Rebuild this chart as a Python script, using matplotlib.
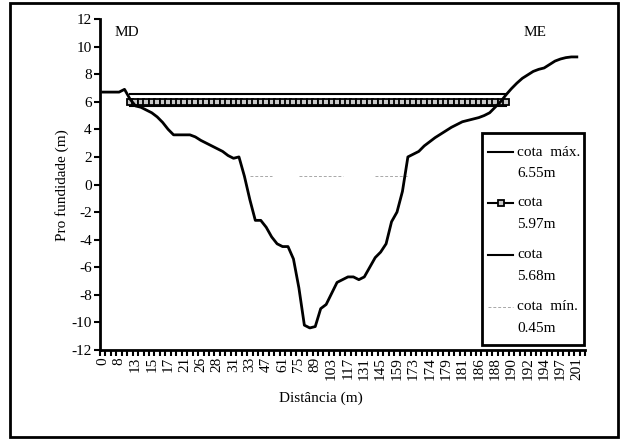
import numpy as np
import matplotlib
matplotlib.use("Agg")
import matplotlib.pyplot as plt
from matplotlib.lines import Line2D
from matplotlib.patches import Rectangle

plt.rcParams['font.family'] = ['Liberation Serif', 'DejaVu Serif']
plt.rcParams['axes.unicode_minus'] = False

# category labels (distance, m) - one label every 3 categories
dist_labels = ["0", "8", "13", "15", "17", "21", "26", "28", "31", "33", "47", "61",
               "75", "89", "103", "117", "131", "145", "159", "173", "174", "179",
               "181", "186", "188", "190", "192", "194", "197", "201"]
n_cat = 89

# bed profile (m), one value per category
profile = [6.7, 6.7, 6.7, 6.7, 6.9, 6.2, 5.7, 5.6, 5.4, 5.2,
           4.9, 4.5, 4.0, 3.6, 3.6, 3.6, 3.6, 3.45, 3.2, 3.0,
           2.8, 2.6, 2.4, 2.1, 1.9, 2.0, 0.6, -1.1, -2.6, -2.6,
           -3.1, -3.8, -4.3, -4.5, -4.5, -5.4, -7.5, -10.2, -10.4, -10.3,
           -9.0, -8.7, -7.9, -7.1, -6.9, -6.7, -6.7, -6.9, -6.7, -6.0,
           -5.3, -4.9, -4.3, -2.7, -2.0, -0.5, 2.0, 2.2, 2.4, 2.8,
           3.1, 3.4, 3.65, 3.9, 4.15, 4.35, 4.55, 4.65, 4.75, 4.85,
           5.0, 5.2, 5.6, 6.0, 6.5, 6.95, 7.35, 7.7, 7.95, 8.2,
           8.35, 8.45, 8.7, 8.95, 9.1, 9.2, 9.25, 9.25]

# water levels
lvl_start, lvl_end = 5, 74
cota_max = 6.55
cota_597 = 5.97
cota_568 = 5.68
cota_min = 0.6
min_ranges = [(27, 31), (36, 44), (50, 56)]

x = np.arange(len(profile))
xl = np.arange(lvl_start, lvl_end + 1)

fig = plt.figure(figsize=(6.25, 4.41), dpi=100)
W, H = 625.0, 441.0
ax = fig.add_axes([100 / W, 1 - 350 / H, 485 / W, 331 / H])

ax.plot(xl, [cota_max] * len(xl), color='black', lw=1.5)
ax.plot(xl, [cota_597] * len(xl), color='black', lw=1.5, marker='s', ms=4,
        mfc='#c8c8c8', mec='black', mew=1.3)
ax.plot(xl, [cota_568] * len(xl), color='black', lw=1.5)
for a, b in min_ranges:
    xm = np.arange(a, b + 1)
    ax.plot(xm, [cota_min] * len(xm), color='#a8a8a8', lw=0.7, ls=(0, (3, 2)))
ax.plot(x, profile, color='black', lw=2)

ax.set_xlim(-0.5, n_cat - 0.5)
ax.set_ylim(-12, 12)
ax.set_yticks(np.arange(-12, 13, 2))
ax.set_xticks(np.arange(0, 3 * len(dist_labels), 3))
ax.set_xticklabels(dist_labels, rotation=90)
ax.set_xticks(np.arange(-0.5, n_cat, 1), minor=True)
ax.tick_params(axis='x', which='major', length=0, labelsize=11, pad=5)
ax.tick_params(axis='x', which='minor', length=4, width=1.5, direction='out')
ax.tick_params(axis='y', length=4, width=1.5, direction='out', labelsize=11, pad=2)
for s in ['top', 'right']:
    ax.spines[s].set_visible(False)
for s in ['left', 'bottom']:
    ax.spines[s].set_linewidth(2)

fig.text(62 / W, 1 - 185 / H, "Pro fundidade (m)", rotation=90, ha='center',
         va='center', fontsize=11)
fig.text(321 / W, 1 - 398 / H, "Distância (m)", ha='center', va='center', fontsize=11)
fig.text(115 / W, 1 - 33 / H, "MD", ha='left', va='center', fontsize=11)
fig.text(524 / W, 1 - 33 / H, "ME", ha='left', va='center', fontsize=11)

# legend box
fig.add_artist(Rectangle((482 / W, 1 - 345 / H), 102 / W, 212 / H, transform=fig.transFigure,
                         fill=True, fc='white', ec='black', lw=2, zorder=5))
rows = [(152, "cota  máx.", "6.55m", dict(color='black', lw=1.5)),
        (203, "cota", "5.97m", dict(color='black', lw=1.5, marker='s', ms=4,
                                    mfc='#c8c8c8', mec='black', mew=1.3, markevery=[1])),
        (255, "cota", "5.68m", dict(color='black', lw=1.5)),
        (307, "cota  mín.", "0.45m", dict(color='#a8a8a8', lw=0.7, ls=(0, (3, 2))))]
for yy, t1, t2, st in rows:
    fig.add_artist(Line2D([488 / W, 500.5 / W, 513 / W], [1 - yy / H] * 3,
                          transform=fig.transFigure, zorder=6, **st))
    fig.text(517 / W, 1 - yy / H, t1, ha='left', va='center', fontsize=11, zorder=6)
    fig.text(517 / W, 1 - (yy + 21) / H, t2, ha='left', va='center', fontsize=11, zorder=6)

# chart border
fig.add_artist(Rectangle((10 / W, 4 / H), 608 / W, 434 / H, transform=fig.transFigure,
                         fill=False, ec='black', lw=2))

fig.savefig("out.png", dpi=100)
